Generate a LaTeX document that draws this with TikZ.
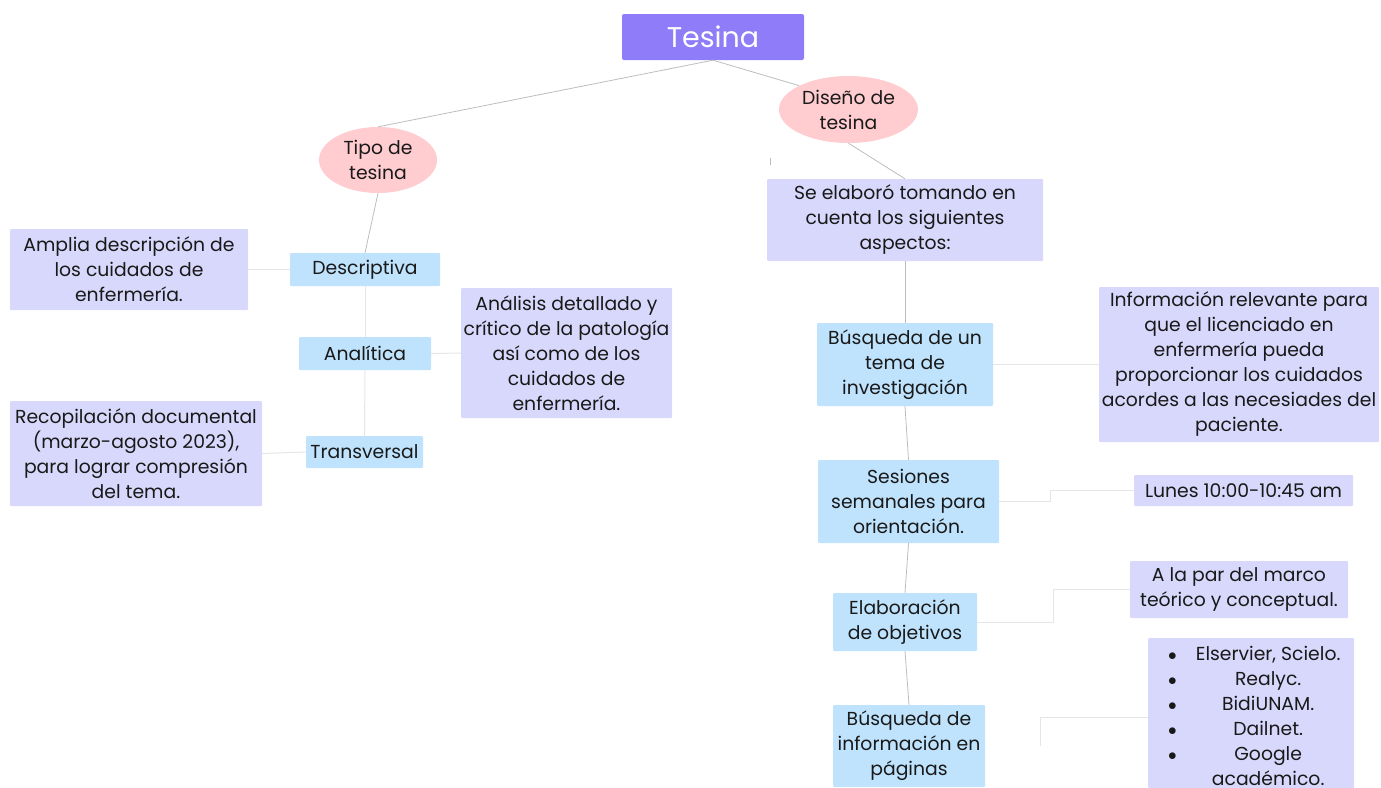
\documentclass[tikz,border=0pt]{standalone}
\usepackage{fontspec}
\setmainfont{Poppins}
\usetikzlibrary{shapes.geometric,calc}
\definecolor{rootfill}{HTML}{8F7CF8}
\definecolor{ovalfill}{HTML}{FFCCD0}
\definecolor{notefill}{HTML}{D8D8FC}
\definecolor{itemfill}{HTML}{BFE3FD}
\definecolor{linkgray}{HTML}{BDBDBD}
\definecolor{linklight}{HTML}{E6E6E6}
\tikzset{
  txt/.style={font=\fontsize{18.8}{25}\selectfont, align=center, inner sep=0pt, text=black!90},
  root/.style={fill=rootfill, rounded corners=2pt, inner sep=0pt, text=white,
    font=\fontsize{28.5}{34}\selectfont},
  oval/.style={txt, ellipse, fill=ovalfill},
  note/.style={txt, fill=notefill, rounded corners=1pt},
  item/.style={txt, fill=itemfill, rounded corners=1pt},
  link/.style={draw=linkgray, line width=0.8pt},
  soft/.style={draw=linklight, line width=1pt},
}
\begin{document}
\begin{tikzpicture}[x=1pt,y=-1pt]
\useasboundingbox (0,0) rectangle (1381,787);

% root and the two branches
\node[root, minimum width=182pt, minimum height=46pt] (tesina) at (713,37) {Tesina};
\node[oval, minimum width=118pt, minimum height=66pt] (tipo) at (378,160) {Tipo de\\tesina};
\node[oval, minimum width=139pt, minimum height=67pt] (diseno) at (848.5,109.5) {Diseño de\\tesina};

% left branch: kinds of thesis
\node[item, minimum width=150pt, minimum height=33pt] (desc) at (365,269.5) {Descriptiva};
\node[item, minimum width=132pt, minimum height=33pt] (anal) at (365,353.5) {Analítica};
\node[item, minimum width=117pt, minimum height=32pt] (trans) at (364.5,452) {Transversal};
\node[note, minimum width=238pt, minimum height=81pt] (amplia) at (129,269.5)
  {Amplia descripción de\\los cuidados de\\enfermería.};
\node[note, minimum width=211pt, minimum height=130pt] (analisis) at (566.5,353)
  {Análisis detallado y\\crítico de la patología\\así como de los\\cuidados de\\enfermería.};
\node[note, minimum width=252pt, minimum height=105pt] (recop) at (136,453.5)
  {Recopilación documental\\(marzo-agosto 2023),\\para lograr compresión\\del tema.};

% right branch: design steps
\node[note, minimum width=276pt, minimum height=82pt] (elab) at (905,220)
  {Se elaboró tomando en\\cuenta los siguientes\\aspectos:};
\node[item, minimum width=176pt, minimum height=83pt] (busq) at (905,364.5)
  {Búsqueda de un\\tema de\\investigación};
\node[item, minimum width=181pt, minimum height=83pt] (ses) at (908.5,501.5)
  {Sesiones\\semanales para\\orientación.};
\node[item, minimum width=144pt, minimum height=58pt] (obj) at (905,622)
  {Elaboración\\de objetivos};
\node[item, minimum width=152pt, minimum height=82pt] (pag) at (909,746)
  {Búsqueda de\\información en\\páginas};

\node[note, minimum width=280pt, minimum height=155pt] (info) at (1239,364.5)
  {Información relevante para\\que el licenciado en\\enfermería pueda\\proporcionar los cuidados\\acordes a las necesiades del\\paciente.};
\node[note, minimum width=219pt, minimum height=31pt] (lunes) at (1243.5,490.5)
  {Lunes 10:00-10:45 am};
\node[note, minimum width=218pt, minimum height=57pt] (par) at (1239,589.5)
  {A la par del marco\\teórico y conceptual.};
\node[note, minimum width=206pt, minimum height=150pt, anchor=north west] (fuentes) at (1148,638) {};
\node[txt, anchor=north west] (lista) at (1168,643)
  {\begin{tabular}{@{}c@{\hspace{19pt}}c@{}}
   $\bullet$ & Elservier, Scielo.\\
   $\bullet$ & Realyc.\\
   $\bullet$ & BidiUNAM.\\
   $\bullet$ & Dailnet.\\
   $\bullet$ & Google\\
             & académico.
   \end{tabular}};

% connectors
\draw[link] (tesina.south) -- (tipo.north);
\draw[link] (tesina.south) -- (diseno.north west);
\draw[link] (diseno.south) -- (elab.north);
\draw[link] (tipo.south) -- (desc.north);
\draw[soft] (desc.south) -- (anal.north);
\draw[soft] (anal.south) -- (trans.north);
\draw[soft] (amplia.east) -- (desc.west);
\draw[soft] (anal.east) -- (analisis.west);
\draw[soft] (trans.west) -- (recop.east);

\draw[link] (elab.south) -- (busq.north);
\draw[link] (busq.south) -- (ses.north);
\draw[link] (ses.south) -- (obj.north);
\draw[link] (obj.south) -- (pag.north);
\draw[soft] (busq.east) -- (info.west);
\draw[soft] (ses.east) -- ++(51,0) |- (lunes.west);
\draw[soft] (obj.east) -- ++(76,0) |- (par.west);
\coordinate (pagend) at (1040,746);
\draw[soft] (pagend) |- ($(fuentes.west)+(0,4.5)$);

% small stray tick under the design oval
\draw[linkgray, line width=0.8pt] (770,158) -- (770,165);
\end{tikzpicture}
\end{document}
